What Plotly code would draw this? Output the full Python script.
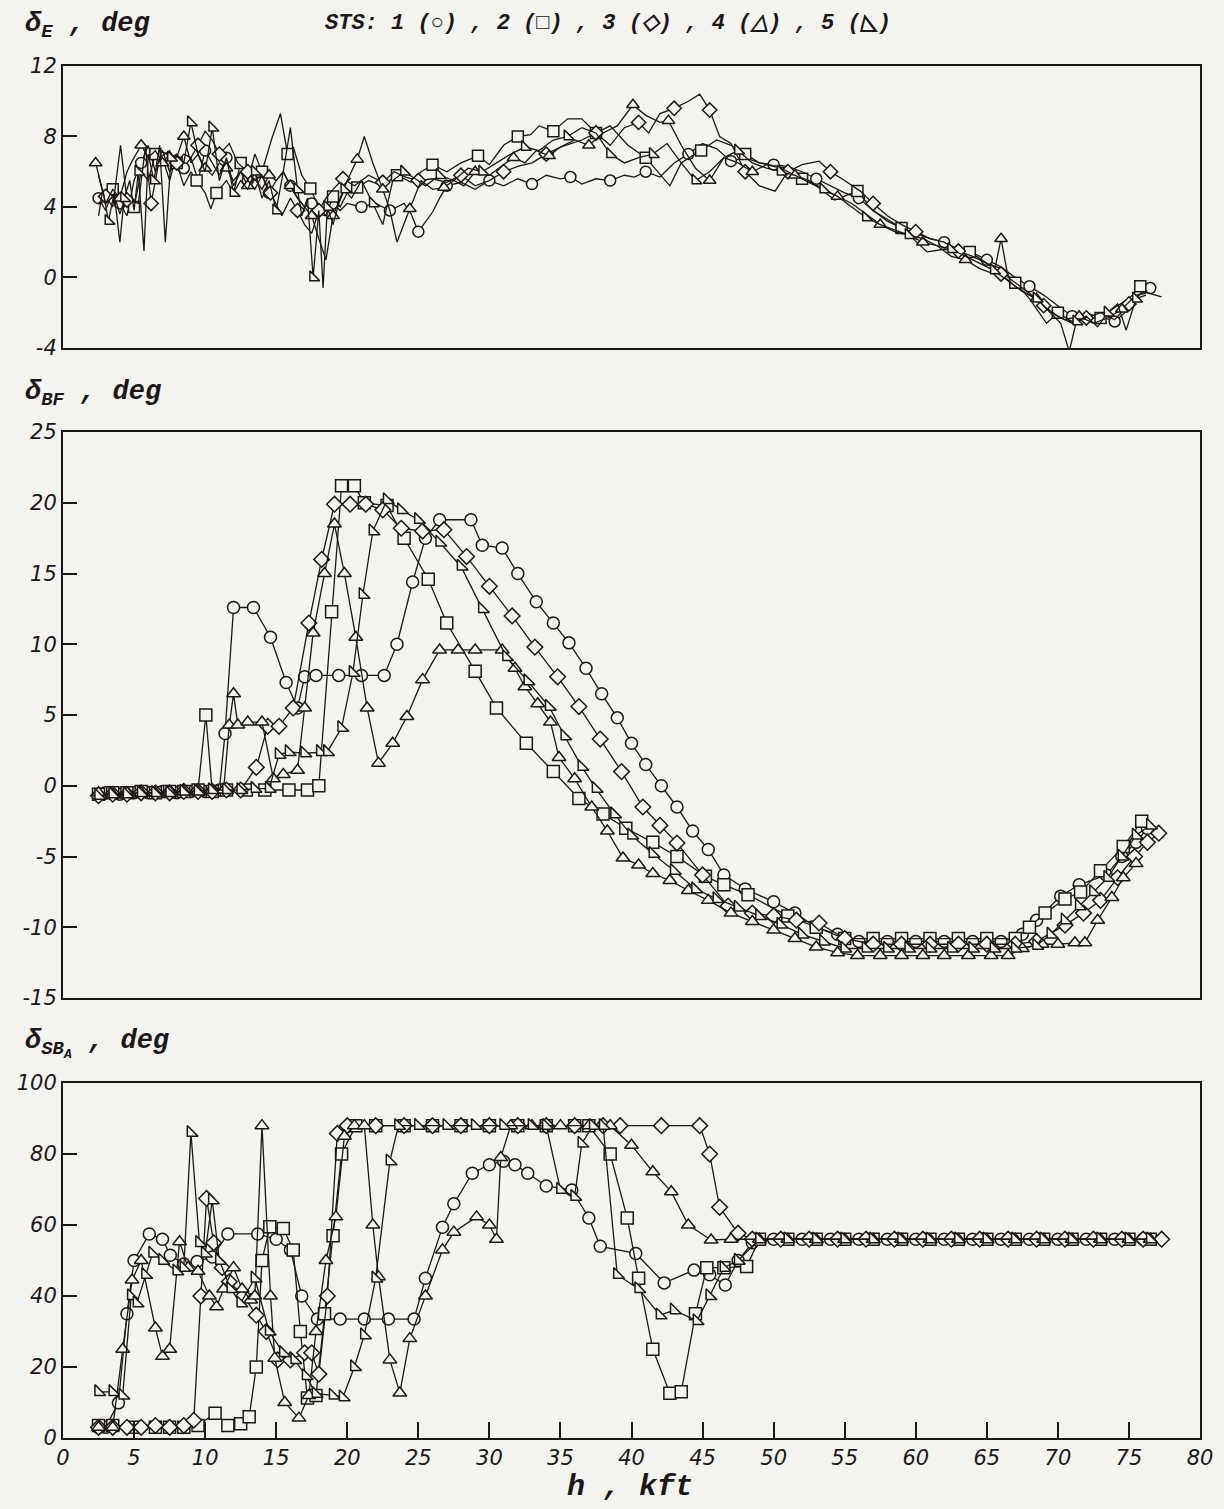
import plotly.graph_objects as go

# ---------------- DATA ----------------
# Top panel: delta_E (deg) vs h (kft)
e1_x = [2.5,3,3.5,4,4.5,5,5.5,6,6.5,7,7.5,8,8.5,9,9.5,10,10.5,11,11.5,12,12.5,13,13.5,14,14.5,15,15.5,16,16.5,17,17.5,18,18.5,19,19.5,20,21,22,22.5,23,24,24.5,25,26,26.5,27,28,29,30,31,32,33,34,35,35.7,36.5,37.5,38.5,39.5,40.2,41,42,43,44,45,46,47,48,49,50,51,52,53,54,55,56,57,58,59,60,61,62,63,64,65,66,67,68,69,70,71,72,73,74,75,75.7,76.5]
e1_y = [4.5,3.8,5,4.2,3.5,5.5,6.5,7.5,6,6.8,5.5,7,6.2,6.8,5.5,7.2,6.5,5.8,6.8,5.2,6,5.5,5,5.8,4.8,5.5,6,5.2,4.5,4,4.2,3.6,3.5,4.2,3.8,4.2,4.0,4.2,4.0,3.8,4.2,3.6,2.6,3.7,4.5,5.2,5.4,5.0,5.5,5.2,5.6,5.3,5.8,5.6,5.7,5.3,5.6,5.5,5.8,5.7,6.0,5.7,6.5,7.0,7.6,7.3,6.6,6.8,6.5,6.4,6.3,6.0,5.6,5.2,4.8,4.5,3.8,3.2,2.8,2.5,2.2,2.0,1.6,1.4,1.0,0.6,0.0,-0.5,-1.0,-1.6,-2.2,-2.4,-2.2,-2.5,-1.8,-1.0,-0.6,-0.5]

e2_x = [2.5,3,3.5,4,4.5,5,5.5,6,6.5,7,7.5,8,8.5,9,9.4,10,10.4,10.8,11.5,12,12.5,13,13.5,14,14.7,15.3,15.8,16.2,16.8,17.4,18,18.5,19,19.5,20,20.7,21.5,22.5,23.5,24.5,25.2,26,27,28,29.2,30,31,32,32.9,33.5,34.5,35.5,36.5,37.5,38.5,39.75,41,42.7,43.5,44.9,46,47,48,49,50.9,52,53,54.3,55.9,57,58,59,60.8,62,63.8,65,66,67,68,69.2,70,71,72,73,74,75,75.8,76.3]
e2_y = [5.8,4.2,5.0,3.6,4.8,4.0,6.0,5.5,7.0,7.2,6.0,6.5,5.2,6.0,5.5,4.8,3.9,4.8,5.5,4.8,6.5,5.5,7.0,6.0,7.9,9.3,7.0,7.4,5.8,5.05,4.0,3.5,4.6,4.0,4.8,5.1,5.5,5.2,5.8,5.4,6.0,6.4,6.0,6.5,6.9,6.4,7.5,8.0,8.1,8.6,8.3,9.0,9.0,8.2,8.6,7.5,6.8,5.2,6.5,7.2,7.8,7.5,7.0,6.5,6.2,5.6,5.2,4.4,4.9,3.8,3.3,2.8,1.45,1.6,1.45,0.8,0.5,-0.3,-1.2,-2.6,-2.0,-2.5,-2.0,-2.3,-1.7,-1.2,-0.5,-0.8]

e3_x = [2.5,3,3.5,4.05,4.5,5.3,5.8,6.2,6.8,7.5,8,8.5,9,9.5,10,10.5,11,11.7,12.3,13,13.5,14,14.6,15.4,16,16.5,17,17.5,18,18.5,19,19.7,20.5,21.5,22.5,23.3,24.1,25,26,27,28,29,30,31,32,33,34,35,36.5,37.5,38.5,39.5,40.5,41.2,42,43,44,44.8,45.5,46.2,47,48,49,50.1,51,52,53.2,54,55,56.1,57,58,59,60,61,62,63,64,65,66,67,68,69,70,71,72,73,74,75,76,77.3]
e3_y = [4.2,4.6,4.0,7.5,4.4,4.2,7.4,4.2,6.8,7.2,6.5,7.0,6.8,7.5,8.3,7.8,7.0,7.6,6.5,6.0,5.5,5.8,4.8,3.5,4.5,3.8,3.0,2.5,3.8,4.5,5.0,5.6,5.2,5.8,5.4,6.0,5.7,5.5,5.6,5.4,5.8,5.2,5.5,6.0,6.3,6.5,7.0,7.4,7.8,8.2,7.5,8.5,8.8,8.2,9.3,9.6,10.0,10.4,9.5,8.0,7.6,6.0,5.2,4.9,6.0,6.4,6.6,6.0,5.5,4.9,4.2,3.5,3.0,2.6,2.2,2.0,1.5,1.2,0.8,0.2,-0.5,-1.0,-1.6,-2.2,-2.6,-2.3,-2.0,-2.4,-1.5,-0.8,-1.1]

e4_x = [2.3,3,3.5,4,4.5,4.86,5.5,6,6.5,7,7.5,8,8.5,9,9.5,10,10.5,11,11.5,12,12.5,13,13.5,14,14.5,15,15.5,16,16.5,17,17.5,18,18.5,19,19.5,20,20.7,21.2,21.8,22.5,23,23.5,24.4,25.2,26,26.8,27.5,28.2,29,30,31,31.7,32.5,33.3,34.2,35,36,37,38,39,40.1,41,42,42.6,43.5,44.5,45.5,46.5,47.5,48.5,49.5,50.5,51.5,52.5,53.5,54.5,55.5,56.5,57.5,58.5,59.5,60.5,61.5,62.5,63.5,64.5,65.5,66,66.5,67.5,68.5,69.5,70.5,71.5,72.5,73.5,74.5,75.5,76.2]
e4_y = [6.5,4.2,5.0,4.5,6.0,6.6,7.5,6.8,7.2,6.5,7.0,6.8,8.0,6.5,7.0,6.2,5.8,6.5,6.2,5.5,6.0,5.2,5.6,5.0,5.8,5.5,6.0,5.2,4.5,4.0,3.5,2.2,1.0,3.5,4.5,5.5,6.7,8.0,6.5,5.0,3.8,2.0,3.9,5.5,5.0,5.1,5.5,5.2,6.0,5.8,6.4,6.8,6.5,7.2,6.9,7.4,7.8,7.5,8.2,8.6,9.8,9.2,8.8,8.9,7.5,6.2,5.5,6.8,6.5,6.0,6.4,6.2,5.8,5.5,5.0,4.6,4.2,3.6,3.0,2.6,2.4,2.0,1.8,1.2,1.0,0.5,0.2,2.2,0.0,-0.6,-1.2,-2.0,-2.4,-2.2,-2.6,-2.3,-1.8,-1.0,-0.9]

e5_x = [2.5,2.8,3.2,3.6,4,4.3,4.7,5,5.3,5.7,6,6.4,6.8,7.2,7.6,8,8.5,9,9.5,10,10.5,11,11.5,12,12.5,13,13.5,14,14.5,15,15.5,16,16.5,16.8,17.2,17.6,18,18.3,18.6,19,19.4,19.8,20.3,21,21.8,22.5,23.2,24,24.8,25.5,26.5,27.5,28.5,29.5,30.5,31.5,32.5,33.5,34.5,35.5,36.5,37.5,38.5,39.5,40.5,41.5,42.5,43.5,44.5,45.5,46.5,47.5,48.5,49.5,50.5,51.5,52.5,53.5,54.5,55.5,56.5,57.5,58.5,59.5,60.5,61.5,62.5,63.5,64.5,65.5,66.5,67.5,68.5,69.5,70.2,70.8,71.3,72,72.8,73.5,74.2,74.8,75.5,76.2]
e5_y = [3.5,5.0,3.2,4.8,2.0,4.5,5.5,3.8,6.0,1.5,7.0,5.5,7.5,2.0,6.8,7.0,6.5,8.8,7.0,6.0,8.5,5.5,6.8,4.8,5.5,5.0,6.0,4.5,5.5,3.8,6.0,8.5,5.0,3.5,4.5,0.0,3.8,-0.6,4.0,3.0,4.2,5.0,4.5,5.5,4.2,3.0,5.5,6.0,5.6,5.2,5.8,5.5,6.2,6.0,6.5,7.0,7.4,7.2,7.8,8.0,8.5,8.2,7.0,6.5,6.8,7.0,7.6,6.5,5.5,6.0,6.8,7.2,6.5,6.2,6.0,5.8,5.4,5.0,4.6,4.0,3.4,3.0,2.7,2.4,2.2,1.8,1.6,1.2,0.8,0.4,-0.2,-0.8,-1.2,-2.0,-2.6,-4.2,-2.5,-2.2,-2.8,-2.0,-1.5,-3.0,-1.2,-1.0]

# Middle panel: delta_BF (deg)
b1_x = [2.5,3,4,5,6,7,8,9,10,11,11.4,12,13.4,14.6,15.7,16.5,17,17.8,19.4,21,22.6,23.5,24.6,25.5,26.5,28.7,29.5,30.9,32,33.3,34.5,35.6,36.8,37.9,39,40,41,42.1,43.2,44.3,45.4,46.5,48,50,51.5,53,54.5,56,58,60,62,64,66,67.5,68.5,70.2,71.5,73.4,74.5,75.5,76.3]
b1_y = [-0.6,-0.5,-0.6,-0.5,-0.5,-0.4,-0.5,-0.4,-0.4,-0.3,3.7,12.6,12.6,10.5,7.3,5.5,7.7,7.8,7.8,7.8,7.8,10,14.4,17.5,18.8,18.8,17,16.8,15,13,11.5,10.1,8.3,6.5,4.8,3.0,1.5,0,-1.5,-3.2,-4.5,-6.3,-7.3,-8.2,-9,-10,-10.5,-11,-11,-11,-11,-11,-11,-10.5,-9.5,-7.8,-7,-6.3,-5,-4,-3]

b2_x = [2.5,3.5,4.5,5.5,6.5,7.5,8.5,9.5,10.05,10.5,11.5,12.9,14.2,15.9,17.2,18,18.9,19.6,20.5,21.2,22.8,24,25.7,27,29,30.5,32.6,34.5,36.3,38,39.6,41.5,43.2,45.2,46.5,48.2,51,53,55,57,59,61,63,65,67,68,69.1,70.5,71.6,73,74.6,75.9]
b2_y = [-0.6,-0.5,-0.5,-0.4,-0.5,-0.4,-0.4,-0.3,5.0,-0.4,-0.3,-0.3,-0.3,-0.3,-0.3,0,12.3,21.2,21.2,20,19.8,17.5,14.6,11.5,8.1,5.5,3.0,1,-0.9,-2,-3,-4,-5,-6.4,-7,-7.7,-9.2,-10,-10.8,-10.8,-10.8,-10.8,-10.8,-10.8,-10.8,-10,-9,-8,-7.5,-6,-4.3,-2.5]

b3_x = [2.5,3.5,4.5,5.5,6.5,7.5,8.5,9.5,10.5,11.5,12.5,13.6,14.4,15.2,16.2,17.3,18.2,19.1,20.2,21.3,22.5,23.8,25.3,26.8,28.4,30,31.6,33.2,34.8,36.3,37.8,39.3,40.8,42,43.2,45,46.8,48.5,50,51.6,53.2,55,57,59,61,63,65,67,68.5,70.5,71.8,73,74.2,75.4,76.3,77.1]
b3_y = [-0.7,-0.6,-0.6,-0.5,-0.5,-0.5,-0.4,-0.4,-0.4,-0.3,-0.3,1.3,4.2,4.2,5.5,11.5,16,19.9,19.9,19.9,19.5,18.2,18.0,18.1,16.2,14.1,12,9.8,7.7,5.6,3.3,1.0,-1.5,-2.8,-4.05,-6.3,-8.5,-9,-9.2,-9.5,-9.7,-10.8,-11.2,-11.2,-11.2,-11.2,-11.2,-11.2,-11,-9.85,-9,-8.1,-6.5,-5,-4,-3.35]

b4_x = [2.5,3.5,4.5,5.5,6.5,7.5,8.5,9.5,10.5,11.3,11.7,12.0,12.3,13,14,14.8,15.5,16.5,17,17.6,18.4,19.1,19.8,20.6,21.4,22.2,23.2,24.2,25.3,26.5,27.8,29,30.9,31.8,32.5,33.4,34.3,34.9,36,37.2,38.3,39.4,40.5,41.5,42.7,44,45.4,47,48.5,50,51.5,53,54.5,55.9,57.5,59,60.5,62,63.7,65.3,66.5,67.5,68.9,70,71.2,71.9,72.8,73.8,74.6,75.5]
b4_y = [-0.5,-0.6,-0.5,-0.5,-0.5,-0.4,-0.4,-0.4,-0.3,-0.3,4.3,6.5,4.3,4.5,4.5,0.5,0.8,1.1,5.5,10.8,15,18.5,15,10.5,5.5,1.6,3,4.9,7.5,9.6,9.6,9.6,9.6,8.3,7.0,5.8,4.5,2.0,0.5,-1.5,-3.2,-5.1,-5.6,-6.2,-6.7,-7.4,-8.1,-9,-9.6,-10.2,-10.8,-11.4,-11.8,-12,-12,-12,-12,-12,-12,-12,-12,-11.5,-11.2,-11.2,-11.1,-11.1,-9.5,-7.9,-6.5,-5.5]

b5_x = [2.5,3.5,4.5,5.5,6.5,7.5,8.5,9.5,10.5,11.5,12.5,13.5,14.5,15.2,15.9,17,18.1,18.6,19.6,20.4,21.1,21.8,22.8,23.8,25,26.5,28,29.5,31.2,32.7,34.2,35.3,36.5,37.5,38.8,40,41.5,43,44.5,46,47.5,49,50.5,52,53.5,55,56.5,58,59.5,61,62.5,64,65.5,67,68.5,69.5,70.5,71.5,72.5,73.5,74.5,75.5,76.5]
b5_y = [-0.7,-0.6,-0.6,-0.5,-0.5,-0.5,-0.4,-0.4,-0.3,-0.3,-0.3,-0.2,-0.2,2.2,2.4,2.3,2.4,2.4,4.1,8,13.5,18,20.2,19.5,18.8,17.2,15.5,12.5,9.1,7.4,5.6,3.5,1.35,-0.2,-2,-3.5,-4.8,-6,-7.3,-8,-8.6,-9.2,-9.8,-10.5,-11,-11.5,-11.5,-11.5,-11.5,-11.5,-11.5,-11.5,-11.5,-11.5,-11.3,-10.5,-9.5,-8.5,-7.5,-6.5,-5,-3.5,-2.8]

# Bottom panel: delta_SB_A (deg)
s1_x = [2.5,3,3.9,4.5,5,6.07,7,7.55,8.5,9.43,10.5,11.6,13.7,15,16,16.8,17.9,19.5,21.2,22.9,24.7,25.5,26.7,27.5,28.8,30,31,31.8,32.7,34,35.8,37,37.8,40.3,42.3,44.4,45.5,46.6,47.5,48.5,50,52,54,56,58,60,62,64,66,68,70,72,74,76]
s1_y = [3,3,9.9,35,50,57.5,56,51.5,49,49.7,51,57.5,57.5,56,53,40,33.5,33.5,33.5,33.5,33.5,45,59.4,66,74.6,77,78,77,74.6,71,69.9,62,54,52,43.7,47.3,46,43.1,50,55,56,56,56,56,56,56,56,56,56,56,56,56,56,56]

s2_x = [2.5,3.5,5,6.5,7.5,8.5,9.5,10.7,11.6,12.5,13.1,13.6,14,14.55,15.5,16.2,16.7,17.2,17.8,18.4,19,19.6,20.6,22,24,26,28,30,32,34,36,37,38.5,39.7,40.5,41.5,42.7,43.5,44.5,45.3,46.5,48.1,49,51,53,55,57,59,61,63,65,67,69,71,73,75,76.5]
s2_y = [3.5,3.5,3,3,3,3,3.5,7,3.5,4,6,20,50,59.5,59,53,30,11.3,12,35,57,80,88,88,88,88,88,88,88,88,88,88,80,62,45,25,12.6,13,35,48,48,48.3,56,56,56,56,56,56,56,56,56,56,56,56,56,56,56]

s3_x = [2.5,3.5,4.5,5.5,6.5,7.5,8.5,9.2,9.7,10.1,10.6,11.2,11.7,12.7,13.6,14.3,15.1,16,17,17.5,18,18.6,19.3,20,22,24,26,28,30,32,34,36,38,39.2,42.1,44.8,45.5,46.2,47.5,48.5,50.5,52.5,54.5,56.5,58.5,60.5,62.5,64.5,66.5,68.5,70.5,72.5,74.5,76,77.3]
s3_y = [3,3,3,3,3.5,3,3.5,5,40,67.5,55,48,44,40,34.6,30,22,22,24,24,18,40,85.8,88,88,88,88,88,88,88,88,88,88,88,88,88,80,65,57.7,56,56,56,56,56,56,56,56,56,56,56,56,56,56,56,56]

s4_x = [2.5,3.5,4.2,4.86,5.5,6.5,7,7.5,8.2,8.8,9.5,10.3,10.8,11.3,12,12.6,13.2,13.5,14.0,14.6,14.9,15.6,16.6,17.3,17.8,18.5,19.2,19.8,20.5,21.2,21.8,22.2,23,23.7,24.4,25.5,26.7,27.5,29.1,30,30.5,30.8,31.5,33,35,37,38.5,40,41.5,42.8,44,45.6,47,49,51,53,55,57,59,61,63,65,67,69,71,73,75,76.5]
s4_y = [3,3,25,44.5,50,31,23,25,55.3,48,47,40,37,42,48,42,38.9,40,88,40,22.5,10,5.6,12,30,50,62.3,85,88,88,60,45.4,22,12.7,28,40,53,58,62.3,60,56,79,88,88,88,88,88,82.5,75,69.4,60,55.8,56,56,56,56,56,56,56,56,56,56,56,56,56,56,56,56]

s5_x = [2.5,3.5,4.2,4.8,5.2,5.8,6.3,7,8,8.5,9,9.6,10,10.5,11,11.8,12.5,13.5,14.5,15.5,16.3,17.1,17.8,19,19.7,20.5,21.2,22,23,23.6,25,27,29,31,33,34,35,36,36.5,37.3,38,39,40.5,42,43,44.6,45.5,46.5,47.5,49,51,53,55,57,59,61,63,65,67,69,71,73,75,76.5]
s5_y = [13,13,12,40,38,46,52,50,47,48,86,55,52,67,50,42,38,45,30,24,22,17.5,12.5,12,11.5,20,29,45,78,88,88,88,88,88,88,88,70,68,83,88,88,46,42,34.6,36,33,40,48,50,56,56,56,56,56,56,56,56,56,56,56,56,56,56,56]

x_ticks = list(range(0, 81, 5))
e_ticks = [-4, 0, 4, 8, 12]
e_labels = ["-4", "0", "4", "8", "12"]
bf_ticks = [-15, -10, -5, 0, 5, 10, 15, 20, 25]
bf_labels = ["-15", "-10", "-5", "0", "5", "10", "15", "20", "25"]
sb_ticks = [0, 20, 40, 60, 80, 100]

# ---------------- STYLE ----------------
INK = "#1c1818"
BG = "#f3f3f0"
symbols = ["circle", "square", "diamond", "triangle-up", "triangle-sw"]
FONT = "DejaVu Sans"
LABFONT = "Liberation Mono"

fig = go.Figure()

def add(xs, ys, sym, xa, ya, size, maxd):
    fig.add_trace(go.Scatter(
        x=xs, y=ys, xaxis=xa, yaxis=ya, mode="lines+markers",
        line=dict(color=INK, width=1.3),
        marker=dict(symbol=sym, size=size, color=BG,
                    line=dict(color=INK, width=1.5), maxdisplayed=maxd),
        showlegend=False, hoverinfo="skip"))

top = [(e1_x, e1_y), (e2_x, e2_y), (e3_x, e3_y), (e4_x, e4_y), (e5_x, e5_y)]
mid = [(b1_x, b1_y), (b2_x, b2_y), (b3_x, b3_y), (b4_x, b4_y), (b5_x, b5_y)]
bot = [(s1_x, s1_y), (s2_x, s2_y), (s3_x, s3_y), (s4_x, s4_y), (s5_x, s5_y)]

for (xs, ys), sym in zip(top, symbols):
    add(xs, ys, sym, "x3", "y3", 11, 40)
for (xs, ys), sym in zip(mid, symbols):
    add(xs, ys, sym, "x2", "y2", 12, 0)
for (xs, ys), sym in zip(bot, symbols):
    add(xs, ys, sym, "x", "y", 12, 0)

tickfont = dict(family=FONT, size=21, color=INK, style="italic")
axline = dict(showline=True, linecolor=INK, linewidth=2, mirror=True,
              showgrid=False, zeroline=False)

fig.update_layout(
    width=1224, height=1509,
    margin=dict(l=63, r=24, t=66, b=71),
    paper_bgcolor=BG, plot_bgcolor=BG,
    xaxis=dict(domain=[0, 1], range=[0, 80], anchor="y", tickvals=x_ticks,
               ticks="inside", ticklen=16, tickwidth=1.5, tickcolor=INK,
               tickfont=tickfont, **axline),
    xaxis2=dict(domain=[0, 1], range=[0, 80], anchor="y2", showticklabels=False,
                ticks="", **axline),
    xaxis3=dict(domain=[0, 1], range=[0, 80], anchor="y3", showticklabels=False,
                ticks="", **axline),
    yaxis=dict(domain=[0, 0.2587], range=[0, 100], anchor="x", tickvals=sb_ticks,
               ticks="inside", ticklen=14, tickwidth=1.5, tickcolor=INK,
               tickfont=tickfont, **axline),
    yaxis2=dict(domain=[0.3207, 0.7332], range=[-15, 25], anchor="x2", tickvals=bf_ticks,
                ticktext=bf_labels,
                ticks="inside", ticklen=14, tickwidth=1.5, tickcolor=INK,
                tickfont=tickfont, **axline),
    yaxis3=dict(domain=[0.7945, 1], range=[-4, 12], anchor="x3", tickvals=e_ticks,
                ticktext=e_labels,
                ticks="inside", ticklen=14, tickwidth=1.5, tickcolor=INK,
                tickfont=tickfont, **axline),
)

labfont = dict(family=LABFONT, size=27, color=INK, style="italic", weight="bold")
ann = [
    dict(text="δ<sub>E</sub> , deg", x=-0.035, y=1.029, xanchor="left", yanchor="middle", font=labfont),
    dict(text="STS: 1 (○) , 2 (□) , 3 (◇) , 4 (△) , 5 (◺)", x=0.479, y=1.031,
         xanchor="center", yanchor="middle",
         font=dict(family=LABFONT, size=22, color=INK, style="italic", weight="bold")),
    dict(text="δ<sub>BF</sub> , deg", x=-0.035, y=0.761, xanchor="left", yanchor="middle", font=labfont),
    dict(text="δ<sub>SB<sub>A</sub></sub> , deg", x=-0.035, y=0.287, xanchor="left", yanchor="middle", font=labfont),
    dict(text="h , kft", x=0.499, y=-0.036, xanchor="center", yanchor="middle",
         font=dict(family=LABFONT, size=30, color=INK, style="italic", weight="bold")),
]
for a in ann:
    fig.add_annotation(xref="paper", yref="paper", showarrow=False, **a)

fig.write_html("out.html", config={"displayModeBar": False},
               post_script="document.body.style.margin='0';document.body.style.overflow='hidden';")
